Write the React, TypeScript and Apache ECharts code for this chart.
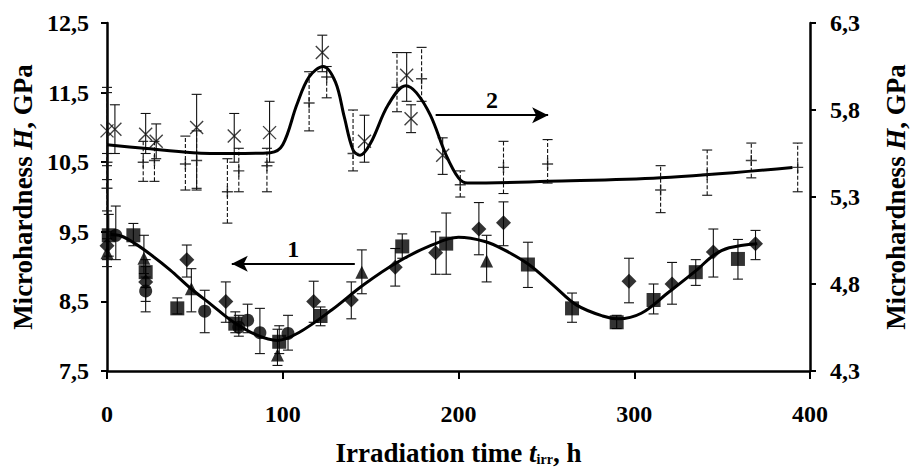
import React, { useEffect, useRef } from "react";
import * as echarts from "echarts";

// ---- Curve 1 (left axis) : [t, H]
const curve1 = [
  [2, 9.46], [8, 9.44], [16, 9.33], [25, 9.17], [36, 8.95], [47, 8.7], [60, 8.44], [71, 8.22],
  [85, 8.02], [97, 7.94], [109, 8.05], [128, 8.38], [146, 8.74], [165, 9.06], [184, 9.3],
  [200, 9.42], [215, 9.36], [226, 9.24], [240, 9.03], [254, 8.73], [267, 8.45], [282, 8.29],
  [291, 8.25], [304, 8.33], [319, 8.62], [336, 8.96], [345, 9.16], [354, 9.27], [370, 9.33],
];
// ---- Curve 2 (right axis) : [t, H]
const curve2 = [
  [0, 5.6], [21, 5.58], [49, 5.555], [71, 5.55], [93, 5.555], [100, 5.6], [108, 5.83], [115, 5.99],
  [123, 6.05], [130, 5.96], [135, 5.76], [140, 5.57], [144, 5.54], [150, 5.61], [160, 5.83],
  [170, 5.94], [176, 5.9], [184, 5.77], [193, 5.54], [200, 5.41], [205, 5.38], [251, 5.39],
  [315, 5.41], [390, 5.47],
];

// ---- Series 1 points (left axis): [t, H, low, high]
const squares = [
  [1, 9.45, 9.15, 9.75], [15, 9.45, 9.3, 9.62], [22, 8.92, 8.7, 9.1], [40, 8.4, 8.32, 8.55],
  [73, 8.18, 8.05, 8.35], [98, 7.92, 7.75, 8.15], [121.5, 8.29, 8.15, 8.42], [168, 9.29, 9.12, 9.47],
  [193, 9.33, 8.89, 9.77], [239.5, 9.03, 8.7, 9.35], [264.6, 8.4, 8.2, 8.62], [290, 8.2, 8.11, 8.3],
  [311, 8.52, 8.32, 8.75], [335, 8.92, 8.73, 9.1], [359, 9.11, 8.82, 9.39],
];
const diamonds = [
  [0, 9.3, 9.1, 9.5], [22, 8.78, 8.5, 9.0], [45.4, 9.1, 8.85, 9.31], [67.6, 8.5, 8.2, 8.78],
  [117.6, 8.5, 8.2, 8.79], [139, 8.52, 8.25, 8.78], [164, 8.99, 8.72, 9.26], [187, 9.2, 8.89, 9.5],
  [211.6, 9.54, 9.17, 9.92], [225.6, 9.63, 9.3, 9.93], [297, 8.79, 8.48, 9.12], [321.5, 8.75, 8.46, 9.06],
  [345, 9.21, 8.85, 9.54], [369, 9.33, 9.1, 9.52],
];
const circles = [
  [5, 9.45, 9.1, 9.87], [22, 8.65, 8.35, 8.85], [55.6, 8.36, 8.05, 8.66], [75, 8.13, 8.0, 8.3],
  [80, 8.23, 8.05, 8.46], [87, 8.05, 7.75, 8.4], [103, 8.04, 7.8, 8.3],
];
const triangles = [
  [0, 9.2, 9.0, 9.4], [21, 9.12, 8.9, 9.45], [48, 8.68, 8.35, 8.97], [97, 7.73, 7.58, 8.1],
  [145, 8.92, 8.61, 9.24], [216, 9.08, 8.78, 9.45],
];

// ---- Series 2 points (right axis): [t, H, low, high]
const crosses = [
  [0, 5.68, 5.55, 5.9], [4.5, 5.69, 5.55, 5.83], [22, 5.66, 5.55, 5.78], [28, 5.62, 5.52, 5.72],
  [51, 5.7, 5.35, 5.89], [72.4, 5.65, 5.5, 5.78], [92.5, 5.67, 5.5, 5.85], [122.5, 6.13, 6.02, 6.23],
  [146.5, 5.62, 5.5, 5.77], [170.5, 6.0, 5.85, 6.13], [173, 5.75, 5.67, 5.83], [191, 5.54, 5.43, 5.64],
];
const pluses = [
  [0, 5.5, 5.4, 5.93], [0, 5.35, 5.22, 5.48], [20.6, 5.5, 5.39, 5.62], [27, 5.51, 5.39, 5.62],
  [44.6, 5.49, 5.34, 5.65], [51, 5.51, 5.34, 5.68], [68.5, 5.33, 5.15, 5.52], [75, 5.45, 5.33, 5.58],
  [91, 5.48, 5.33, 5.58], [115, 5.84, 5.68, 6.02], [125, 5.99, 5.87, 6.05], [140, 5.55, 5.45, 5.8],
  [165, 5.93, 5.79, 6.13], [179, 5.98, 5.85, 6.16], [201, 5.37, 5.3, 5.45], [225.6, 5.47, 5.32, 5.62],
  [250.7, 5.49, 5.38, 5.63], [315, 5.34, 5.21, 5.48], [341.5, 5.43, 5.31, 5.57], [366.6, 5.51, 5.41, 5.61],
  [393, 5.47, 5.33, 5.61],
];

// ---- Annotation arrows: [tStart, tEnd, H]
const arrow1 = [141, 71, 9.04];
const arrow2 = [187, 251, 5.77];

const FONT = '"Liberation Serif", "Times New Roman", serif';
const CROSS = "path://M0,0L10,10M10,0L0,10";
const PLUS = "path://M5,0L5,10M0,5L10,5";

function errSeries(data: number[][], yAxisIndex: number, dashed: boolean) {
  return {
    type: "custom",
    yAxisIndex,
    data: data.map((d) => [d[0], d[2], d[3]]),
    encode: { x: 0, y: [1, 2] },
    silent: true,
    z: 1,
    renderItem: (_p: any, api: any) => {
      const x = api.value(0);
      const a = api.coord([x, api.value(1)]);
      const b = api.coord([x, api.value(2)]);
      const w = 5;
      const st = { stroke: "#111", lineWidth: 1.1 };
      return {
        type: "group",
        children: [
          { type: "line", shape: { x1: a[0], y1: a[1], x2: b[0], y2: b[1] }, style: { ...st, lineDash: dashed ? [4, 2] : null } },
          { type: "line", shape: { x1: a[0] - w, y1: a[1], x2: a[0] + w, y2: a[1] }, style: st },
          { type: "line", shape: { x1: b[0] - w, y1: b[1], x2: b[0] + w, y2: b[1] }, style: st },
        ],
      };
    },
  };
}

function scatter(data: number[][], yAxisIndex: number, symbol: string, size: number, stroke = false) {
  return {
    type: "scatter",
    yAxisIndex,
    data: data.map((d) => [d[0], d[1]]),
    symbol,
    symbolSize: size,
    z: 3,
    itemStyle: stroke
      ? { color: "transparent", borderColor: "#111", borderWidth: 1.4 }
      : { color: "#000" },
  };
}

const fmt = (v: number) => v.toFixed(1).replace(".", ",");

const labelStyle = { fontFamily: FONT, fontSize: 24, fontWeight: "bold", color: "#000" };
const NS = 27;
const nameRich = {
  a: { fontFamily: FONT, fontSize: NS, fontWeight: "bold", color: "#000" },
  i: { fontFamily: FONT, fontSize: NS, fontWeight: "bold", fontStyle: "italic", color: "#000" },
  s: { fontFamily: FONT, fontSize: 14, fontWeight: "bold", color: "#000", verticalAlign: "bottom" },
};
const nameStyle = { rich: nameRich, fontFamily: FONT, fontSize: NS, fontWeight: "bold" };
const axisLine = { show: true, lineStyle: { color: "#000", width: 2.5 } };
const axisTick = { show: true, length: 6, lineStyle: { color: "#000", width: 2 } };
const arrowLabel = { show: true, position: "insideMiddleTop", distance: 3, fontFamily: FONT, fontSize: 24, fontWeight: "bold", color: "#000" };

export default function App() {
  const ref = useRef<HTMLDivElement>(null);
  useEffect(() => {
    const chart = echarts.init(ref.current!, null, { renderer: "svg" });
    chart.setOption({
      animation: false,
      backgroundColor: "#fff",
      grid: { left: 107, right: 92, top: 23, bottom: 89, containLabel: false },
      xAxis: {
        type: "value",
        min: 0,
        max: 400,
        interval: 100,
        axisLine,
        axisTick: { ...axisTick, length: 8 },
        splitLine: { show: false },
        axisLabel: { ...labelStyle, margin: 31 },
        name: "{a|Irradiation time }{i|t}{s|irr}{a|, h}",
        nameLocation: "middle",
        nameGap: 68,
        nameTextStyle: nameStyle,
      },
      yAxis: [
        {
          type: "value",
          position: "left",
          min: 7.5,
          max: 12.5,
          interval: 1,
          axisLine,
          axisTick,
          splitLine: { show: false },
          axisLabel: { ...labelStyle, margin: 18, formatter: fmt },
          name: "{a|Microhardness }{i|H}{a|, GPa}",
          nameLocation: "middle",
          nameRotate: 90,
          nameGap: 62,
          nameTextStyle: nameStyle,
        },
        {
          type: "value",
          position: "right",
          min: 4.3,
          max: 6.3,
          interval: 0.5,
          axisLine,
          axisTick,
          splitLine: { show: false },
          axisLabel: { ...labelStyle, margin: 20, formatter: fmt },
          name: "{a|Microhardness }{i|H}{a|, GPa}",
          nameLocation: "middle",
          nameRotate: 90,
          nameGap: 72,
          nameTextStyle: nameStyle,
        },
      ],
      series: [
        errSeries(squares, 0, false),
        errSeries(diamonds, 0, false),
        errSeries(circles, 0, false),
        errSeries(triangles, 0, false),
        errSeries(crosses, 1, false),
        errSeries(pluses, 1, true),
        {
          type: "line",
          yAxisIndex: 0,
          data: curve1,
          smooth: 0.35,
          showSymbol: false,
          lineStyle: { color: "#000", width: 3 },
          z: 2,
          markLine: {
            silent: true,
            symbol: ["none", "arrow"],
            symbolSize: [12, 16],
            lineStyle: { color: "#000", width: 2, type: "solid" },
            label: { ...arrowLabel, formatter: "1" },
            data: [[{ coord: [arrow1[0], arrow1[2]] }, { coord: [arrow1[1], arrow1[2]] }]],
          },
        },
        {
          type: "line",
          yAxisIndex: 1,
          data: curve2,
          smooth: 0.35,
          showSymbol: false,
          lineStyle: { color: "#000", width: 3 },
          z: 2,
          markLine: {
            silent: true,
            symbol: ["none", "arrow"],
            symbolSize: [12, 16],
            lineStyle: { color: "#000", width: 2, type: "solid" },
            label: { ...arrowLabel, formatter: "2" },
            data: [[{ coord: [arrow2[0], arrow2[2]] }, { coord: [arrow2[1], arrow2[2]] }]],
          },
        },
        scatter(squares, 0, "rect", 14),
        scatter(diamonds, 0, "diamond", 15),
        scatter(circles, 0, "circle", 13),
        scatter(triangles, 0, "triangle", 13),
        scatter(crosses, 1, CROSS, 13, true),
        scatter(pluses, 1, PLUS, 11, true),
      ],
    });
    return () => chart.dispose();
  }, []);
  return <div ref={ref} style={{ position: "fixed", left: 0, top: 0, width: 917, height: 471, background: "#fff" }} />;
}
